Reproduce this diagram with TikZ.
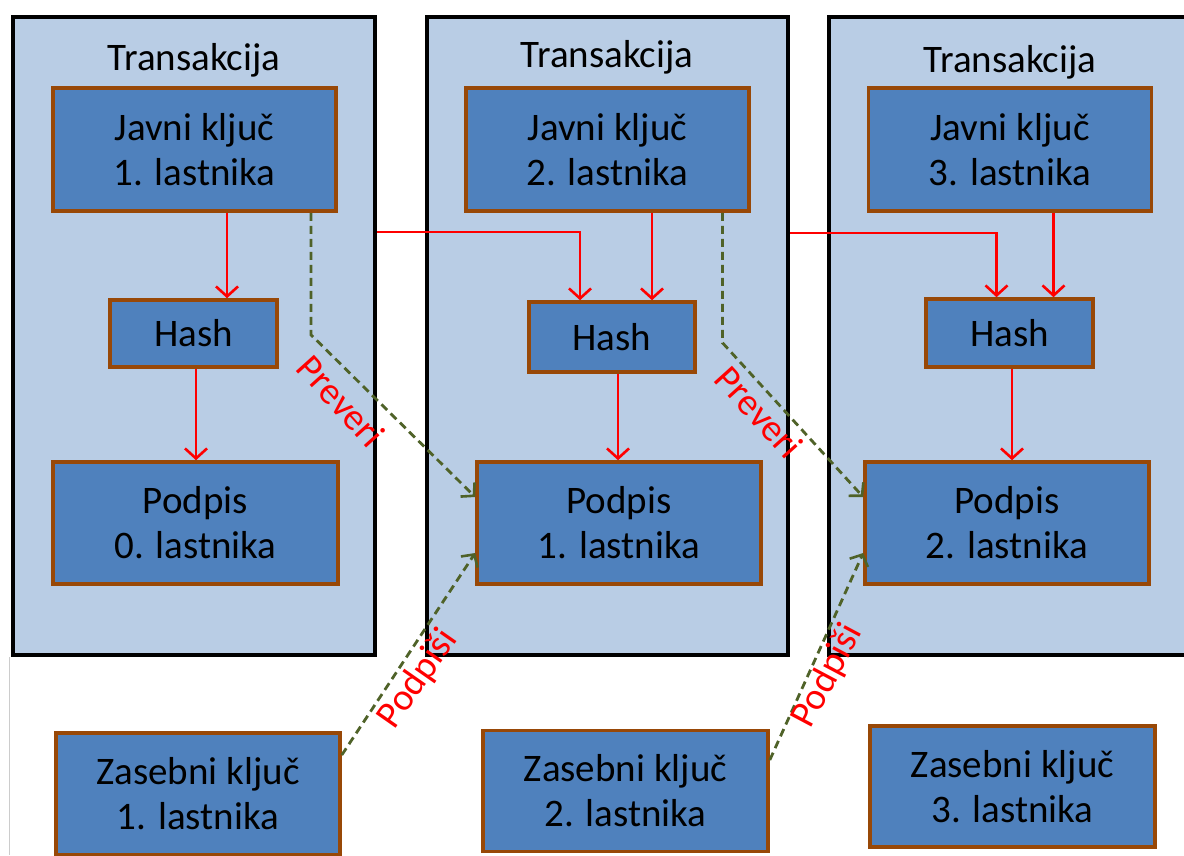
\documentclass[tikz,border=0pt]{standalone}
\usepackage{fontspec}
\setmainfont{Carlito}
\usetikzlibrary{arrows.meta,calc}
\definecolor{lightbg}{HTML}{B9CDE5}
\definecolor{boxfill}{HTML}{4F81BD}
\definecolor{boxedge}{HTML}{984807}
\definecolor{darkgreen}{HTML}{4F6228}
\begin{document}
\begin{tikzpicture}[x=1pt,y=-1pt,
  tbox/.style={draw=black, line width=4pt, fill=lightbg},
  kbox/.style={draw=boxedge, line width=3.6pt, fill=boxfill, text=black, align=center,
    font=\fontsize{39}{45}\selectfont, inner sep=0pt},
  ttl/.style={text=black, font=\fontsize{39}{45}\selectfont},
  redarr/.style={draw=red, line width=2.6pt, -{Straight Barb[length=10pt,width=22pt,line width=2.6pt]}},
  grnarr/.style={draw=darkgreen, line width=2.8pt, dash pattern=on 8pt off 5pt,
    -{Straight Barb[length=9pt,width=20pt,line width=2.6pt]}},
  lbl/.style={text=red, font=\fontsize{38}{40}\selectfont, inner sep=0pt}]
\useasboundingbox (0,0) rectangle (1184,855);
\clip (0,0) rectangle (1184,855);
\fill[white] (0,0) rectangle (1184,855);
\draw[gray!40, line width=0.8pt] (9.5,657) -- (9.5,855);

% transaction frames
\node[tbox, minimum width=362pt, minimum height=638pt] (t1) at (194,336) {};
\node[tbox, minimum width=361pt, minimum height=638pt] (t2) at (607.5,336) {};
\node[tbox, minimum width=400pt, minimum height=638pt] (t3) at (1029,336) {};

% titles
\node[ttl] (tt1) at (194,60) {Transakcija};
\node[ttl] (tt2) at (607,57) {Transakcija};
\node[ttl] (tt3) at (1010,62) {Transakcija};

% boxes
\node[kbox, minimum width=283pt, minimum height=123pt] (j1) at (194.5,149.5) {Javni ključ\\1. lastnika};
\node[kbox, minimum width=167pt, minimum height=67pt] (h1) at (193.5,333.5) {Hash};
\node[kbox, minimum width=285pt, minimum height=122pt] (p0) at (195.5,523) {Podpis\\0. lastnika};

\node[kbox, minimum width=283pt, minimum height=123pt] (j2) at (607.5,149.5) {Javni ključ\\2. lastnika};
\node[kbox, minimum width=166pt, minimum height=70pt] (h2) at (612,337) {Hash};
\node[kbox, minimum width=284pt, minimum height=122pt] (p1) at (619,523) {Podpis\\1. lastnika};

\node[kbox, minimum width=283pt, minimum height=123pt] (j3) at (1010,149.5) {Javni ključ\\3. lastnika};
\node[kbox, minimum width=167pt, minimum height=68pt] (h3) at (1009.5,333) {Hash};
\node[kbox, minimum width=284pt, minimum height=122pt] (p2) at (1007,523) {Podpis\\2. lastnika};

\node[kbox, minimum width=284pt, minimum height=122pt] (z1) at (198,794) {Zasebni ključ\\1. lastnika};
\node[kbox, minimum width=285pt, minimum height=121pt] (z2) at (625.5,791) {Zasebni ključ\\2. lastnika};
\node[kbox, minimum width=285pt, minimum height=121pt] (z3) at (1012.5,786.5) {Zasebni ključ\\3. lastnika};

% red arrows
\draw[redarr] ([xshift=32.5pt]j1.south) -- ([xshift=32.5pt]j1.south |- h1.north);
\draw[redarr] ([xshift=2.5pt]h1.south) -- ([xshift=2.5pt]h1.south |- p0.north);
\draw[redarr] (t1.east |- 0,232) -| ([xshift=-32pt]h2.north);
\draw[redarr] ([xshift=44.5pt]j2.south) -- ([xshift=44.5pt]j2.south |- h2.north);
\draw[redarr] ([xshift=6pt]h2.south) -- ([xshift=6pt]h2.south |- p1.north);
\draw[redarr] (t2.east |- 0,233) -| ([xshift=-13pt]h3.north);
\draw[redarr] ([xshift=43.5pt]j3.south) -- ([xshift=43.5pt]j3.south |- h3.north);
\draw[redarr] ([xshift=2.5pt]h3.south) -- ([xshift=2.5pt]h3.south |- p2.north);

% green dashed arrows
\draw[grnarr] ([xshift=116.5pt]j1.south) -- ++(0,122) -- ([yshift=26pt]p1.west);
\draw[grnarr] ([xshift=115pt]j2.south) -- ++(0,130) -- ([yshift=26pt]p2.west);
\draw[grnarr] ([yshift=39pt]z1.east) -- ([yshift=-30pt]p1.west);
\draw[grnarr] ([yshift=31pt]z2.east) -- ([yshift=-30pt]p2.west);

% labels
\node[lbl, rotate=-48] (lv1) at (341,401) {Preveri};
\node[lbl, rotate=-48] (lv2) at (759,412) {Preveri};
\node[lbl, rotate=55] (ls1) at (418,679) {Podpiši};
\node[lbl, rotate=62] (ls2) at (828,676) {Podpiši};
\end{tikzpicture}
\end{document}
